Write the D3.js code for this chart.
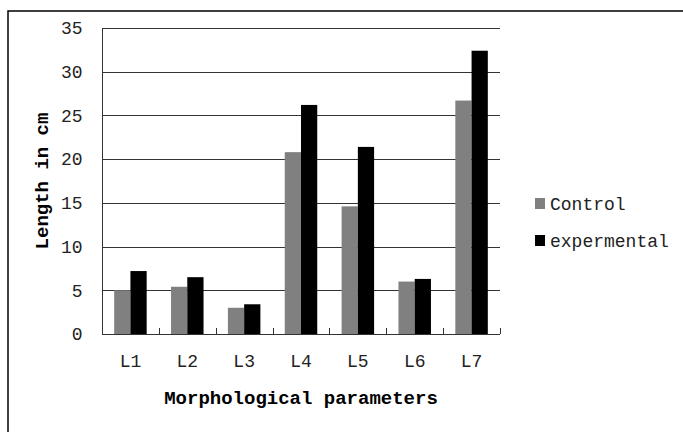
<!DOCTYPE html>
<html>
<head>
<meta charset="utf-8">
<script src="https://cdn.jsdelivr.net/npm/d3@7"></script>
<style>
  body { margin: 0; background: #fff; }
  svg text { font-family: "Liberation Mono", "DejaVu Sans Mono", monospace; }
</style>
</head>
<body>
<div id="chart"></div>
<script>
// data
const categories = ["L1", "L2", "L3", "L4", "L5", "L6", "L7"];
const seriesNames = ["Control", "expermental"];
const controlValues = [5.0, 5.4, 3.0, 20.8, 14.6, 6.0, 26.7];
const expValues = [7.2, 6.5, 3.4, 26.2, 21.4, 6.3, 32.4];
const yTicks = [0, 5, 10, 15, 20, 25, 30, 35];

const width = 683, height = 432;
const plotL = 102, plotR = 500, plotT = 28, plotB = 334;
const colors = ["#808080", "#000000"];

const svg = d3.select("#chart").append("svg")
  .attr("width", width)
  .attr("height", height);

// outer frame (runs off right and bottom edges)
svg.append("rect")
  .attr("x", 8).attr("y", 11)
  .attr("width", 700).attr("height", 450)
  .attr("fill", "none")
  .attr("stroke", "#000")
  .attr("stroke-width", 1.5);

let x = d3.scaleBand()
  .domain(categories)
  .range([plotL, plotR]);
let y = d3.scaleLinear()
  .domain([0, 35])
  .range([plotB, plotT]);

// gridlines
svg.append("g")
  .selectAll("line")
  .data(yTicks.filter(d => d > 0))
  .enter().append("line")
  .attr("x1", plotL).attr("x2", plotR)
  .attr("y1", d => Math.round(y(d)) + 0.5)
  .attr("y2", d => Math.round(y(d)) + 0.5)
  .attr("stroke", "#333")
  .attr("stroke-width", 1);

// bars: gap width 150% like the spreadsheet default
const barW = x.bandwidth() / 3.5;
const data = categories.map((c, i) => ({cat: c, vals: [controlValues[i], expValues[i]]}));

let groups = svg.selectAll(".grp")
  .data(data)
  .enter().append("g")
  .attr("class", "grp");

groups.selectAll("rect")
  .data(d => d.vals.map((v, j) => ({cat: d.cat, v: v, j: j})))
  .enter().append("rect")
  .attr("x", d => x(d.cat) + barW * 0.75 + d.j * barW)
  .attr("y", d => y(d.v))
  .attr("width", barW)
  .attr("height", d => y(0) - y(d.v))
  .attr("fill", d => colors[d.j]);

// y axis
let yAxis = svg.append("g")
  .attr("transform", `translate(${plotL + 0.5},0)`)
  .call(d3.axisLeft(y).tickValues(yTicks).tickSize(0).tickPadding(20));
yAxis.select(".domain").attr("stroke", "#333").attr("d", `M0,${plotT}V${plotB}`);
yAxis.selectAll("text")
  .style("font-family", "Liberation Mono")
  .attr("font-size", 18)
  .attr("fill", "#222");

// x axis with little inside ticks on the category boundaries
let xAxis = svg.append("g")
  .attr("transform", `translate(0,${plotB + 0.5})`)
  .call(d3.axisBottom(x).tickSize(0).tickPadding(20));
xAxis.select(".domain").attr("stroke", "#333").attr("d", `M${plotL},0H${plotR}`);
xAxis.selectAll("text")
  .style("font-family", "Liberation Mono")
  .attr("font-size", 18)
  .attr("fill", "#222");

svg.append("g")
  .selectAll("line")
  .data(categories)
  .enter().append("line")
  .attr("x1", (d, i) => Math.round(plotL + (i + 1) * x.bandwidth()) + 0.5)
  .attr("x2", (d, i) => Math.round(plotL + (i + 1) * x.bandwidth()) + 0.5)
  .attr("y1", plotB - 6)
  .attr("y2", plotB)
  .attr("stroke", "#333");

// axis titles
svg.append("text")
  .attr("x", (plotL + plotR) / 2)
  .attr("y", 404)
  .attr("text-anchor", "middle")
  .attr("font-size", 19)
  .attr("font-weight", "bold")
  .text("Morphological parameters");

svg.append("text")
  .attr("transform", `translate(48,${(plotT + plotB) / 2}) rotate(-90)`)
  .attr("text-anchor", "middle")
  .attr("font-size", 19)
  .attr("font-weight", "bold")
  .text("Length in cm");

// legend
let legend = svg.append("g")
  .selectAll("g")
  .data(seriesNames)
  .enter().append("g")
  .attr("transform", (d, i) => `translate(535,${198 + i * 37})`);
legend.append("rect")
  .attr("width", 10).attr("height", 11)
  .attr("fill", (d, i) => colors[i]);
legend.append("text")
  .attr("x", 15)
  .attr("y", 6)
  .attr("dy", "0.35em")
  .attr("font-size", 18)
  .attr("fill", "#222")
  .text(d => d);
</script>
</body>
</html>
